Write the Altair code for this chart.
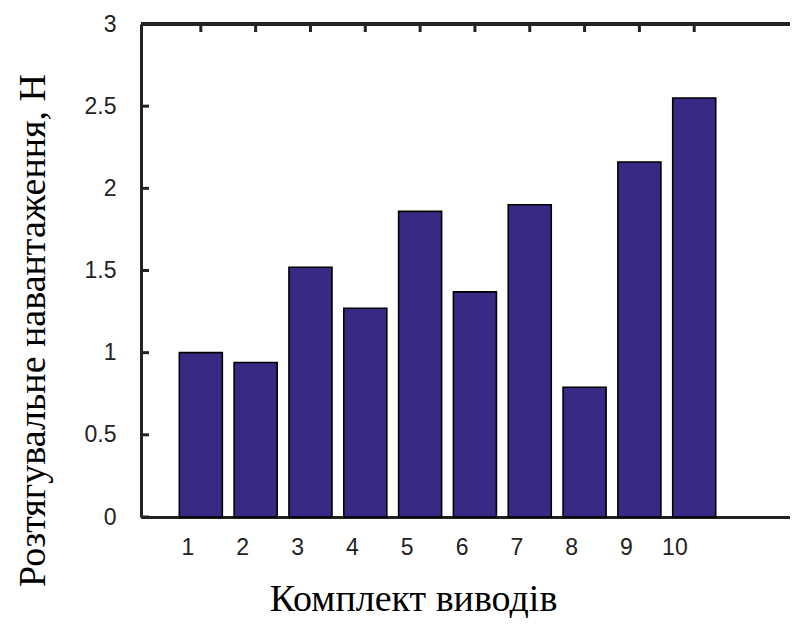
import altair as alt
import pandas as pd

komplekt = [1, 2, 3, 4, 5, 6, 7, 8, 9, 10]
values = [1.00, 0.94, 1.52, 1.27, 1.86, 1.37, 1.90, 0.79, 2.16, 2.55]
y_ticks = [0, 0.5, 1, 1.5, 2, 2.5, 3]

df = pd.DataFrame({"k": komplekt, "v": values})
df_y = pd.DataFrame({"t": y_ticks})

W, H = 649, 493
xscale = alt.Scale(domain=[0, 11.656], nice=False, zero=False)
yscale = alt.Scale(domain=[0, 3], nice=False)

bars = alt.Chart(df).mark_bar(
    size=43, color="#362a85", stroke="#000000", strokeWidth=1.6
).encode(
    x=alt.X("k:Q", scale=xscale,
            axis=alt.Axis(values=komplekt, format="d", title="Комплект виводів",
                          labelAlign="right", labelOffset=-7, labelPadding=19,
                          titleX=272, titleY=93, titleBaseline="alphabetic",
                          titleAnchor="start", titleAlign="center")),
    y=alt.Y("v:Q", scale=yscale,
            axis=alt.Axis(values=y_ticks, format="~g",
                          title="Розтягувальне навантаження, Н",
                          labelPadding=25,
                          titleX=-97, titleY=306, titleAngle=270,
                          titleAlign="center", titleBaseline="alphabetic",
                          titleAnchor="start")),
)

left_ticks = alt.Chart(df_y).mark_rule(color="#222222", strokeWidth=3).encode(
    y=alt.Y("t:Q", scale=yscale), x=alt.value(0), x2=alt.value(8)
)
top_ticks = alt.Chart(df).mark_rule(color="#222222", strokeWidth=3).encode(
    x=alt.X("k:Q", scale=xscale), y=alt.value(0), y2=alt.value(8)
)
top_line = alt.Chart(df).mark_rule(color="#222222", strokeWidth=3).encode(
    x=alt.value(0), x2=alt.value(W), y=alt.value(0)
)

chart = alt.layer(bars, left_ticks, top_ticks, top_line).properties(
    width=W, height=H,
    autosize=alt.AutoSizeParams(type="none"),
    padding={"left": 133, "top": 16, "right": 0, "bottom": 101},
).configure_view(stroke=None).configure_axis(
    grid=False, ticks=False, domainWidth=3, domainColor="#222222",
    labelFont="Liberation Sans", labelFontSize=23, labelColor="#222222",
    titleFont="Liberation Serif", titleFontSize=38, titleFontWeight="normal",
    titleColor="#000000",
)

chart.save("out.html", embed_options={"renderer": "svg", "actions": False})
